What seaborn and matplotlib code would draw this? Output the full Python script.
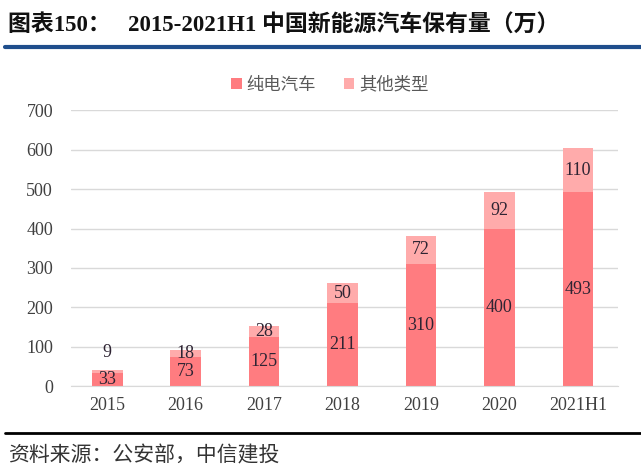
import pandas as pd
import matplotlib.pyplot as plt
import seaborn as sns

# Chart data
years = ['2015', '2016', '2017', '2018', '2019', '2020', '2021H1']
bev = [33, 73, 125, 211, 310, 400, 493]
other = [9, 18, 28, 50, 72, 92, 110]

df = pd.DataFrame({'year': years, 'bev': bev, 'other': other})
df['total'] = df['bev'] + df['other']

sns.set_style('white')
plt.rcParams['font.family'] = ['Liberation Serif', 'Noto Sans CJK SC', 'DejaVu Sans']

fig = plt.figure(figsize=(6.41, 4.71), dpi=100)
ax = fig.add_axes([0.111, 0.180, 0.853, 0.586])

main_color = '#FF7C80'
light_color = '#FFABAB'

# stacked bars: totals drawn first, pure electric on top of them
sns.barplot(data=df, x='year', y='total', color=light_color, width=0.39,
            saturation=1, ax=ax, label='其他类型', linewidth=0)
sns.barplot(data=df, x='year', y='bev', color=main_color, width=0.39,
            saturation=1, ax=ax, label='纯电汽车', linewidth=0)

ax.set_ylim(0, 700)
ax.set_xlim(-0.46, 6.51)
ax.set_yticks(range(0, 701, 100))
ax.set_xlabel('')
ax.set_ylabel('')
ax.yaxis.grid(True, color='#D9D9D9', linewidth=1)
ax.set_axisbelow(True)
for s in ['top', 'right', 'left']:
    ax.spines[s].set_visible(False)
ax.spines['bottom'].set_color('#D9D9D9')
ax.tick_params(axis='both', length=0, labelsize=13, labelcolor='#404040', pad=8)
ax.tick_params(axis='y', pad=13)

# value labels
label_color = '#2E2433'
for i, row in df.iterrows():
    ax.text(i, row['bev'] / 2, str(row['bev']), ha='center', va='center',
            fontsize=13, color=label_color)
    if row['other'] < 15:
        ax.annotate(str(row['other']), (i, row['total']), xytext=(0, 12),
                    textcoords='offset points', ha='center', va='center',
                    fontsize=13, color=label_color)
    else:
        ax.text(i, row['bev'] + row['other'] / 2, str(row['other']),
                ha='center', va='center', fontsize=13, color=label_color)

# legend: pure electric first
handles, labels = ax.get_legend_handles_labels()
if ax.get_legend() is not None:
    ax.get_legend().remove()
order = [labels.index('纯电汽车'), labels.index('其他类型')]
leg = fig.legend([handles[k] for k in order], [labels[k] for k in order],
                 loc='center', bbox_to_anchor=(0.515, 0.82), ncol=2, frameon=False,
                 handlelength=0.6, handleheight=0.6, handletextpad=0.3,
                 columnspacing=1.6, prop={'family': 'Noto Sans CJK SC', 'size': 12.5})
for t in leg.get_texts():
    t.set_color('#595959')

# title block and source note
fig.text(0.012, 0.945, '图表150：   2015-2021H1 中国新能源汽车保有量（万）',
         fontsize=16.5, fontweight='bold', color='#111111', va='center')
fig.add_artist(plt.Line2D([0.008, 1.0], [0.900, 0.900], color='#1F4E8C',
                          linewidth=3, transform=fig.transFigure))
fig.add_artist(plt.Line2D([0.008, 1.0], [0.081, 0.081], color='#000000',
                          linewidth=2, transform=fig.transFigure))
fig.text(0.012, 0.034, '资料来源：公安部，中信建投', fontsize=15, color='#333333',
         va='center', family=['Noto Sans CJK SC'], style='italic')

fig.savefig('out.png', dpi=100, facecolor='white')
